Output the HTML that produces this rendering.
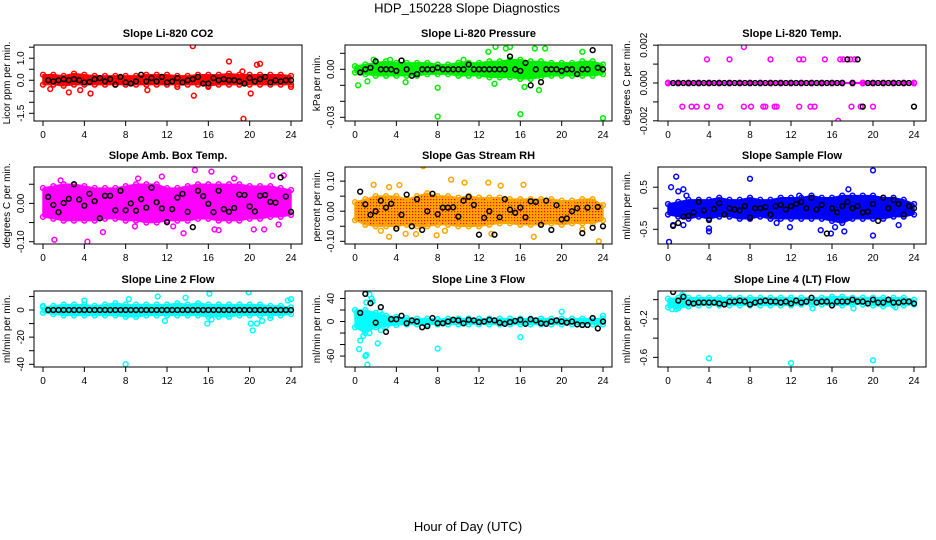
<!DOCTYPE html>
<html><head><meta charset="utf-8"><title>HDP_150228 Slope Diagnostics</title>
<style>
html,body{margin:0;padding:0;background:#fff;}
svg{display:block;font-family:"Liberation Sans",sans-serif;}
</style></head>
<body>
<svg id="chart" width="936" height="540" viewBox="0 0 936 540" xmlns="http://www.w3.org/2000/svg">
<defs>
<pattern id="rhpat" width="3" height="3" patternUnits="userSpaceOnUse"><rect width="3" height="3" fill="#ffa500"/><rect x="1" y="1" width="1.2" height="1.2" fill="#ff0000"/></pattern>
</defs>
<text x="467" y="12.5" text-anchor="middle" font-size="13">HDP_150228  Slope Diagnostics</text>
<text x="468" y="531" text-anchor="middle" font-size="13">Hour of Day (UTC)</text>
</svg>
<script>
const BAND_HOURS=[0,1,2,3,4,5,6,7,8,9,10,11,12,13,14,15,16,17,18,19,20,21,22,23,24];
const BLACK_HOURS=[0.5,1,1.5,2,2.5,3,3.5,4,4.5,5,5.5,6,6.5,7,7.5,8,8.5,9,9.5,10,10.5,11,11.5,12,12.5,13,13.5,14,14.5,15,15.5,16,16.5,17,17.5,18,18.5,19,19.5,20,20.5,21,21.5,22,22.5,23,23.5,24];
const X_TICKS=[0,4,8,12,16,20,24];

const co2Upper=[0.25,0.25,0.2,0.3,0.25,0.2,0.2,0.2,0.2,0.2,0.25,0.25,0.25,0.2,0.2,0.25,0.25,0.25,0.3,0.25,0.25,0.25,0.25,0.25,0.2];
const co2Lower=[-0.2,-0.2,-0.25,-0.2,-0.2,-0.2,-0.2,-0.2,-0.2,-0.2,-0.2,-0.2,-0.2,-0.2,-0.2,-0.2,-0.25,-0.2,-0.2,-0.2,-0.2,-0.2,-0.2,-0.2,-0.2];
const co2OutH=[14.5,18,19.3,20.7,21,14.6,20.1,19.4,2.5,4.6,3.6,10.1,0.7,24,13,16];
const co2OutV=[1.55,0.85,0.4,0.7,0.75,-0.7,-0.6,-1.75,-0.55,-0.6,-0.45,-0.45,-0.4,-0.3,-0.3,-0.3];
const co2Black=[0,-0.05,0,0.05,0,0.05,0,-0.1,-0.08,0.05,0.1,-0.05,0.05,-0.2,0.15,-0.1,-0.15,-0.05,0.25,-0.05,0.1,-0.05,0.15,-0.1,-0.05,0.1,-0.1,0,0.05,0.15,-0.15,-0.15,0.1,0,0.05,0,0,-0.05,-0.15,0.1,-0.05,0.05,0.15,-0.1,0,-0.05,0,0];

const presUpper=[0.002,0.003,0.004,0.005,0.004,0.004,0.004,0.004,0.003,0.003,0.004,0.004,0.004,0.005,0.005,0.006,0.006,0.005,0.005,0.004,0.004,0.004,0.005,0.005,0.003];
const presLower=[-0.002,-0.003,-0.004,-0.004,-0.004,-0.004,-0.004,-0.003,-0.003,-0.003,-0.004,-0.004,-0.004,-0.005,-0.005,-0.005,-0.006,-0.006,-0.005,-0.004,-0.004,-0.004,-0.004,-0.004,-0.003];
const presOutH=[0.3,1.2,4.9,8,8,16,24,13.6,12.9,14.6,15,17.4,18.4,22,17.8,16.4,13.5,10.5,3.4,1.8];
const presOutV=[-0.01,-0.0075,-0.008,-0.0115,-0.0295,-0.028,-0.0305,0.014,0.011,0.013,0.014,0.013,0.013,0.011,-0.013,-0.011,-0.009,0.006,0.006,0.006];
const presBlack=[-0.002,0,0.001,0.005,0,0,0,-0.001,0.0055,0,-0.004,-0.003,0,0,0,0.001,0,0,0,0,0,0.003,0,0,0,0,0,0,0,0.008,0,-0.001,0.004,-0.01,0,-0.008,0,0,0,-0.001,0,0,-0.003,0,0,0.012,0.001,0];

const tempUpper=[0.00002,0.00002,0.00002,0.00002,0.00002,0.00002,0.00002,0.00002,0.00002,0.00002,0.00002,0.00002,0.00002,0.00002,0.00002,0.00002,0.00002,0.00002,0.00002,0.00002,0.00002,0.00002,0.00002,0.00002,0.00002];
const tempLower=[-0.00002,-0.00002,-0.00002,-0.00002,-0.00002,-0.00002,-0.00002,-0.00002,-0.00002,-0.00002,-0.00002,-0.00002,-0.00002,-0.00002,-0.00002,-0.00002,-0.00002,-0.00002,-0.00002,-0.00002,-0.00002,-0.00002,-0.00002,-0.00002,-0.00002];
const tempOutH=[3.8,6,10,12.8,13.2,15.3,16.8,17.1,17.8,18.2,7.4,1.4,2.3,2.8,3.8,5.1,7.4,8.1,9.3,9.5,10.4,10.6,12.8,13.9,14.3,17.9,18.8,20,16.6];
const tempOutV=[0.00125,0.00125,0.00125,0.00125,0.00125,0.00125,0.00125,0.00125,0.00125,0.00125,0.0019,-0.00125,-0.00125,-0.00125,-0.00125,-0.00125,-0.00125,-0.00125,-0.00125,-0.00125,-0.00125,-0.00125,-0.00125,-0.00125,-0.00125,-0.00125,-0.00125,-0.00125,-0.002];
const tempBlack=[0,0,0,0,0,0,0,0,0,0,0,0,0,0,0,0,0,0,0,0,0,0,0,0,0,0,0,0,0,0,0,0,0,0,0.00125,0,0.00125,-0.00125,0,0,0,0,0,0,0,0,0,-0.00125];

const ambUpper=[0.04,0.045,0.05,0.05,0.045,0.04,0.04,0.04,0.045,0.05,0.05,0.05,0.04,0.04,0.045,0.05,0.05,0.05,0.05,0.05,0.045,0.045,0.045,0.04,0.035];
const ambLower=[-0.035,-0.04,-0.045,-0.045,-0.045,-0.045,-0.04,-0.04,-0.045,-0.045,-0.05,-0.05,-0.045,-0.045,-0.045,-0.04,-0.04,-0.045,-0.045,-0.045,-0.04,-0.04,-0.035,-0.035,-0.03];
const ambOutH=[1.1,4.3,5.8,13.6,14.7,16.3,23.3,22.2,18.5,9.2,11.5,1.7,16.6,17,20.4,21.4,22.8,12.6,8.9];
const ambOutV=[-0.095,-0.1,-0.075,-0.078,0.087,0.083,0.073,0.072,0.065,0.065,0.07,0.06,-0.068,-0.07,-0.068,-0.068,-0.055,-0.06,-0.06];
const ambBlack=[0.017,-0.004,-0.023,0.001,0.012,0.05,0.01,-0.006,0.025,0.006,-0.039,0.02,0.02,-0.018,0.033,-0.018,0,-0.019,0.011,-0.011,0.041,0.003,-0.013,-0.049,-0.015,0.015,0.025,-0.022,-0.062,0.033,0.019,-0.001,-0.023,0.033,-0.015,-0.022,-0.012,0.023,0.022,-0.008,-0.021,0.02,0.022,0.004,0.002,0.068,0.018,-0.022];

const rhUpper=[0.03,0.04,0.05,0.05,0.05,0.04,0.05,0.06,0.05,0.05,0.045,0.05,0.045,0.045,0.045,0.04,0.04,0.04,0.04,0.04,0.035,0.035,0.04,0.04,0.02];
const rhLower=[-0.03,-0.045,-0.05,-0.05,-0.05,-0.045,-0.05,-0.05,-0.045,-0.045,-0.05,-0.05,-0.05,-0.045,-0.04,-0.04,-0.045,-0.045,-0.045,-0.04,-0.045,-0.04,-0.04,-0.04,-0.03];
const rhOutH=[6.6,9.3,10.6,12.9,14.1,16.3,1.8,3.3,4.3,3.3,7.9,17.3,23.6,4.9,5.9,8.7,13.2,2.5,22];
const rhOutV=[0.15,0.105,0.095,0.095,0.085,0.088,0.088,0.08,0.087,-0.085,-0.08,-0.085,-0.1,-0.075,-0.076,-0.065,-0.075,-0.065,-0.06];
const rhBlack=[0.065,0.023,-0.012,0,0.035,0.012,0.025,-0.058,-0.012,0.055,-0.05,0.04,-0.062,0,0.058,-0.01,0.012,0.012,0.013,-0.018,0.035,0.048,0.021,-0.078,-0.022,0,-0.078,-0.02,0.04,0.005,-0.005,0.012,-0.02,0.033,0.031,-0.045,0.035,-0.062,0.02,-0.027,-0.024,0,0.01,-0.073,0.012,-0.055,0.014,-0.05];

const sfUpper=[0.1,0.15,0.2,0.2,0.2,0.25,0.2,0.2,0.25,0.2,0.2,0.25,0.25,0.25,0.3,0.25,0.25,0.3,0.3,0.3,0.3,0.25,0.25,0.2,0.1];
const sfLower=[-0.15,-0.2,-0.25,-0.2,-0.25,-0.2,-0.2,-0.25,-0.25,-0.2,-0.25,-0.25,-0.25,-0.25,-0.25,-0.25,-0.3,-0.35,-0.25,-0.25,-0.25,-0.25,-0.2,-0.2,-0.15];
const sfOutH=[0.1,0.3,0.8,1,1.5,1.8,4,4,8,20,20,15.9,14.9,16.3,17.2,17.6,22.5,12.8,11.9,10.6,0.5,1.5];
const sfOutV=[-0.8,0.5,0.75,0.4,0.45,0.3,-0.55,-0.48,0.7,0.9,-0.65,-0.6,-0.52,-0.45,-0.55,0.45,-0.4,0.3,-0.45,-0.35,-0.4,-0.4];
const sfBlack=[-0.42,-0.35,-0.2,-0.18,-0.1,0.15,-0.05,-0.28,-0.02,0.12,-0.15,0,-0.03,-0.05,0.05,-0.22,0,0,0.03,-0.15,0.05,0.08,-0.03,0.05,0.1,0.15,0,0.25,-0.03,0.08,-0.6,0,-0.1,0.05,0.15,0,0.05,-0.1,-0.08,0.1,-0.3,0.25,0,0.2,0.1,-0.15,0.05,0];

const l2Upper=[2,3,4,4,4,3,4,5,4,4,4,4,4,5,4,5,4,4,4,4,4,4,3,3,2];
const l2Lower=[-2,-3,-4,-4,-4,-4,-4,-4,-5,-5,-4,-4,-4,-4,-4,-4,-5,-5,-5,-4,-4,-4,-4,-4,-3];
const l2OutH=[8,15.9,16.1,19.9,20.1,20.3,20.7,21.2,22,24,23.7,16.3,13.8,11.1,8.3,4,0,11.8];
const l2OutV=[-40,-10,12,13,-10,-15,-10,-8,-6,8,7,-7,9,10,8,7,3,-8];
const l2Black=[0,0,0,0,0,0,0,0,0,0,0,0,0,0,0,0,0,0,0,0,0,0,0,0,0,0,0,0,0,0,0,0,0,0,0,0,0,0,0,0,0,0,0,0,0,0,0,0];

const l3Upper=[20,20,15,10,8,6,5,5,4,5,5,5,5,5,5,5,5,5,5,5,5,5,5,5,5];
const l3Lower=[-10,-20,-10,-8,-6,-5,-5,-5,-5,-5,-5,-5,-5,-5,-5,-5,-5,-5,-5,-5,-5,-5,-5,-5,-5];
const l3OutH=[0.2,0.4,0.5,0.8,0.9,1,1.1,1.2,1.4,1.6,1.7,1.1,1.4,1.9,2,2.2,2.4,2.5,8,16,20,24,2.6];
const l3OutV=[15,-48,-33,-25,-15,-60,-58,-75,47,40,35,33,-20,10,-5,-38,17,-15,-47,-27,17,10,12];
const l3Black=[15,48,32,-2,25,-18,4,4,10,-3,2,0,-10,-8,6,-3,-3,0,3,2,-3,3,2,-1,0,3,2,-2,-4,-1,1,3,-4,4,2,-3,-4,0,2,0,-2,0,-5,-6,-6,6,-12,0];

const l4Upper=[0.01,0.02,0.02,0.02,0.02,0.02,0.02,0.02,0.02,0.02,0.02,0.02,0.02,0.02,0.02,0.02,0.03,0.03,0.02,0.02,0.02,0.02,0.02,0.02,0.0];
const l4Lower=[-0.08,-0.09,-0.07,-0.06,-0.06,-0.06,-0.06,-0.06,-0.06,-0.06,-0.06,-0.06,-0.06,-0.05,-0.05,-0.05,-0.06,-0.06,-0.05,-0.05,-0.06,-0.07,-0.06,-0.06,-0.05];
const l4OutH=[4,12,20,1.4,1.6,0.4,0.8,14.1,18.1,22.2];
const l4OutV=[-0.61,-0.66,-0.63,0.05,0.03,-0.1,-0.1,-0.09,-0.09,-0.08];
const l4Black=[0.08,-0.01,0.03,-0.03,-0.04,-0.03,-0.03,-0.03,-0.03,-0.04,-0.05,-0.02,-0.02,-0.01,-0.02,-0.05,-0.03,-0.02,-0.01,-0.02,-0.02,-0.03,-0.02,-0.04,-0.01,-0.03,-0.02,0.02,-0.03,-0.02,-0.02,-0.06,-0.02,-0.02,-0.02,0,-0.02,-0.02,-0.04,0,-0.03,-0.03,0,-0.03,-0.03,-0.02,-0.02,-0.04];

const co2Ticks=[1.5,1.0,0.5,0.0,-0.5,-1.0,-1.5]; const co2Labels=["","1.0","","0.0","","","-1.5"];
const presTicks=[0.01,0,-0.01,-0.02,-0.03]; const presLabels=["","0.00","","","-0.03"];
const tempTicks=[0.002,0.001,0,-0.001,-0.002]; const tempLabels=["0.002","","0.000","","-0.002"];
const ambTicks=[0.05,0,-0.05,-0.1]; const ambLabels=["","0.00","","-0.10"];
const rhTicks=[0.1,0.05,0,-0.05,-0.1]; const rhLabels=["0.10","","0.00","","-0.10"];
const sfTicks=[0.5,0,-0.5]; const sfLabels=["0.5","","-0.5"];
const l2Ticks=[10,0,-10,-20,-30,-40]; const l2Labels=["","0","","-20","","-40"];
const l3Ticks=[40,20,0,-20,-40,-60]; const l3Labels=["40","","0","","","-60"];
const l4Ticks=[0,-0.2,-0.4,-0.6]; const l4Labels=["","-0.2","","-0.6"];

const cols=[{l:34,r:302,x0:43,x24:291,yt:10,yl:24},{l:345,r:612,x0:355,x24:603,yt:320,yl:334},{l:658,r:926,x0:668,x24:914,yt:630,yl:647}];
const rows=[{t:45,b:121},{t:167,b:244},{t:291,b:367}];
const panels=[
 {key:'co2',title:'Slope Li-820 CO2',ylab:'Licor ppm per min.',c:0,r:0,dom:[-1.85,1.6],col:'#ff0000',fill:'#ff0000',up:co2Upper,lo:co2Lower,oh:co2OutH,ov:co2OutV,bk:co2Black,tk:co2Ticks,tl:co2Labels},
 {key:'pressure',title:'Slope Li-820 Pressure',ylab:'kPa per min.',c:1,r:0,dom:[-0.0323,0.0152],col:'#00ee00',fill:'#00ee00',up:presUpper,lo:presLower,oh:presOutH,ov:presOutV,bk:presBlack,tk:presTicks,tl:presLabels},
 {key:'temp',title:'Slope Li-820 Temp.',ylab:'degrees C per min.',c:2,r:0,dom:[-0.00201,0.00201],col:'#ff00ff',fill:'#ff00ff',up:tempUpper,lo:tempLower,oh:tempOutH,ov:tempOutV,bk:tempBlack,tk:tempTicks,tl:tempLabels},
 {key:'amb-box-temp',title:'Slope Amb. Box Temp.',ylab:'degrees C per min.',c:0,r:1,dom:[-0.106,0.095],col:'#ff00ff',fill:'#ff00ff',up:ambUpper,lo:ambLower,oh:ambOutH,ov:ambOutV,bk:ambBlack,tk:ambTicks,tl:ambLabels},
 {key:'gas-stream-rh',title:'Slope Gas Stream RH',ylab:'percent per min.',c:1,r:1,dom:[-0.109,0.147],col:'#ffa500',fill:'url(#rhpat)',up:rhUpper,lo:rhLower,oh:rhOutH,ov:rhOutV,bk:rhBlack,tk:rhTicks,tl:rhLabels},
 {key:'sample-flow',title:'Slope Sample Flow',ylab:'ml/min per min.',c:2,r:1,dom:[-0.85,0.98],col:'#0000ff',fill:'#0000ff',up:sfUpper,lo:sfLower,oh:sfOutH,ov:sfOutV,bk:sfBlack,tk:sfTicks,tl:sfLabels},
 {key:'line2-flow',title:'Slope Line 2 Flow',ylab:'ml/min per min.',c:0,r:2,dom:[-42,14],col:'#00ffff',fill:'#00ffff',up:l2Upper,lo:l2Lower,oh:l2OutH,ov:l2OutV,bk:l2Black,tk:l2Ticks,tl:l2Labels},
 {key:'line3-flow',title:'Slope Line 3 Flow',ylab:'ml/min per min.',c:1,r:2,dom:[-79,53],col:'#00ffff',fill:'#00ffff',up:l3Upper,lo:l3Lower,oh:l3OutH,ov:l3OutV,bk:l3Black,tk:l3Ticks,tl:l3Labels},
 {key:'line4-flow',title:'Slope Line 4 (LT) Flow',ylab:'ml/min per min.',c:2,r:2,dom:[-0.70,0.09],col:'#00ffff',fill:'#00ffff',up:l4Upper,lo:l4Lower,oh:l4OutH,ov:l4OutV,bk:l4Black,tk:l4Ticks,tl:l4Labels}
];

const svg=document.getElementById('chart');
const NS='http://www.w3.org/2000/svg';
function mk(tag,attrs,parent,txt){const e=document.createElementNS(NS,tag);for(const k in attrs)e.setAttribute(k,attrs[k]);if(txt!==undefined)e.textContent=txt;parent.appendChild(e);return e;}
const MR=2.4, MW=1.5;

panels.forEach(p=>{
 const C=cols[p.c],R=rows[p.r];
 const xs=h=>C.x0+(C.x24-C.x0)*h/24;
 const ys=v=>R.b-(v-p.dom[0])/(p.dom[1]-p.dom[0])*(R.b-R.t);
 const g=mk('g',{},svg);
 
 
 const clip='clip-'+p.key;
 const cp=mk('clipPath',{id:clip},g); mk('rect',{x:C.l,y:R.t,width:C.r-C.l,height:R.b-R.t},cp);
 const plot=mk('g',{'clip-path':'url(#'+clip+')'},g);
 let pts=BAND_HOURS.map((h,i)=>xs(h)+','+ys(p.up[i]));
 pts=pts.concat(BAND_HOURS.map((h,i)=>xs(h)+','+ys(p.lo[i])).reverse());
 const band=mk('polygon',{points:pts.join(' '),fill:p.fill,stroke:p.col,'stroke-width':1.5,'stroke-linejoin':'round'},plot);
 
 
 BAND_HOURS.forEach((h,i)=>{
  [p.up[i],p.lo[i]].forEach(v=>{
   const c=mk('circle',{cx:xs(h),cy:ys(v),r:MR,fill:'none',stroke:p.col,'stroke-width':MW},plot);
   
   
  });
 });
 p.oh.forEach((h,i)=>{
  const c=mk('circle',{cx:xs(h),cy:ys(p.ov[i]),r:MR,fill:'none',stroke:p.col,'stroke-width':MW},plot);
  
  
 });
 BLACK_HOURS.forEach((h,i)=>{
  const c=mk('circle',{cx:xs(h),cy:ys(p.bk[i]),r:MR,fill:'none',stroke:'#000','stroke-width':MW},plot);
  
  
 });
 const box=mk('rect',{x:C.l,y:R.t,width:C.r-C.l,height:R.b-R.t,fill:'none',stroke:'#000','stroke-width':1},g);
 
 
 const xa=mk('g',{},g);
 
 
 mk('line',{x1:xs(0),x2:xs(24),y1:R.b,y2:R.b,stroke:'#000'},xa);
 X_TICKS.forEach(t=>{
  mk('line',{x1:xs(t),x2:xs(t),y1:R.b,y2:R.b+5,stroke:'#000'},xa);
  const tx=mk('text',{x:xs(t),y:R.b+17,'text-anchor':'middle','font-size':10},xa,String(t));
  
  
 });
 const ya=mk('g',{},g);
 
 
 mk('line',{x1:C.l,x2:C.l,y1:ys(p.tk[0]),y2:ys(p.tk[p.tk.length-1]),stroke:'#000'},ya);
 p.tk.forEach((t,i)=>{
  const y=ys(t);
  mk('line',{x1:C.l-5,x2:C.l,y1:y,y2:y,stroke:'#000'},ya);
  if(p.tl[i]){const tx=mk('text',{x:C.yl,y:y,'text-anchor':'middle','font-size':10,transform:'rotate(-90 '+C.yl+' '+y+')'},ya,p.tl[i]);
  
  }
 });
 const yc=(R.t+R.b)/2;
 const yt=mk('text',{x:C.yt,y:yc,'text-anchor':'middle','font-size':10,transform:'rotate(-90 '+C.yt+' '+yc+')'},g,p.ylab);
 
 
 const tt=mk('text',{x:(C.l+C.r)/2,y:R.t-8,'text-anchor':'middle','font-size':11,'font-weight':'bold'},g,p.title);
 
 
});
</script>
</body></html>
